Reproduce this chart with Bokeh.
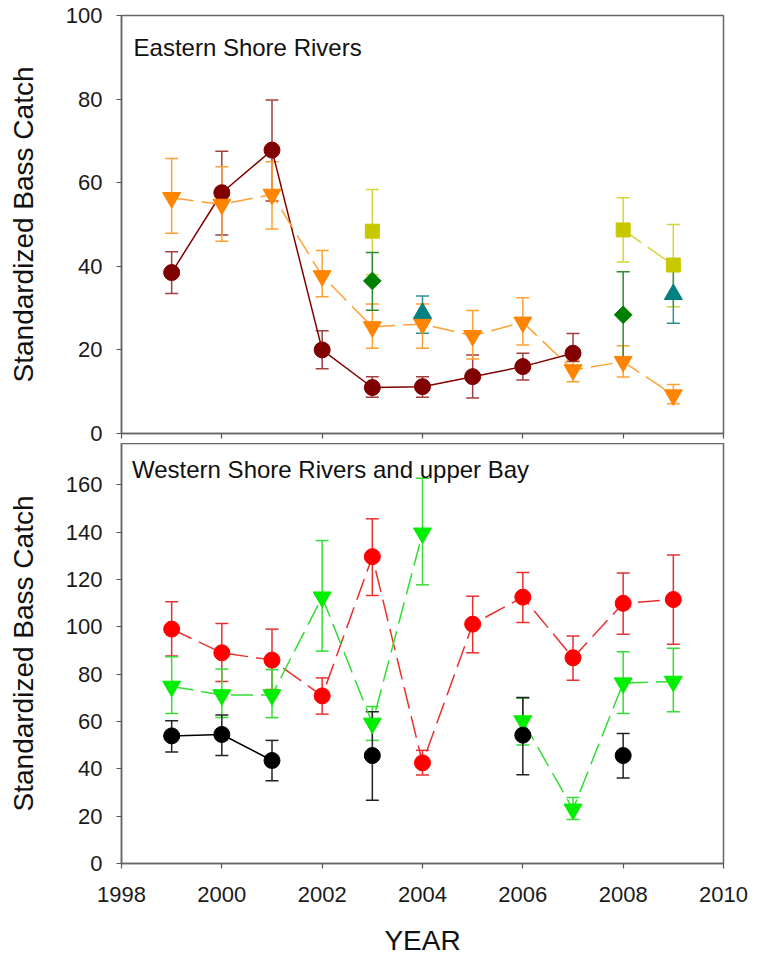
import math
from bokeh.plotting import figure
from bokeh.layouts import column
from bokeh.models import ColumnDataSource, Whisker, TeeHead, Label, FixedTicker, Range1d
from bokeh.embed import file_html
from bokeh.resources import INLINE

nan = float("nan")
years = [1999, 2000, 2001, 2002, 2003, 2004, 2005, 2006, 2007, 2008, 2009]

# ---------------- Eastern Shore Rivers ----------------
es_maroon = [38.5, 57.6, 67.8, 20.0, 11.0, 11.2, 13.6, 16.0, 19.2, nan, nan]
es_maroon_lo = [33.5, 47.5, 55.6, 15.5, 8.7, 8.7, 8.5, 12.8, 17.2, nan, nan]
es_maroon_hi = [43.5, 67.5, 79.8, 24.6, 13.6, 13.6, 18.8, 19.2, 23.9, nan, nan]

es_orange = [56.4, 54.8, 57.2, 37.7, 25.5, 26.2, 23.4, 26.6, 15.2, 17.2, 9.2]
es_orange_lo = [47.9, 46.0, 48.9, 32.7, 20.4, 20.4, 17.8, 21.2, 12.4, 13.5, 7.1]
es_orange_hi = [65.8, 63.8, 65.0, 43.8, 31.0, 31.0, 29.4, 32.5, 17.5, 21.0, 11.7]

es_olive = [nan, nan, nan, nan, 48.4, nan, nan, nan, nan, 48.7, 40.3]
es_olive_lo = [nan, nan, nan, nan, 38.0, nan, nan, nan, nan, 41.0, 30.3]
es_olive_hi = [nan, nan, nan, nan, 58.4, nan, nan, nan, nan, 56.4, 50.0]

es_green = [nan, nan, nan, nan, 36.5, nan, nan, nan, nan, 28.4, nan]
es_green_lo = [nan, nan, nan, nan, 29.5, nan, nan, nan, nan, 18.2, nan]
es_green_hi = [nan, nan, nan, nan, 43.3, nan, nan, nan, nan, 38.7, nan]

es_teal = [nan, nan, nan, nan, nan, 28.8, nan, nan, nan, nan, 33.3]
es_teal_lo = [nan, nan, nan, nan, nan, 24.0, nan, nan, nan, nan, 26.4]
es_teal_hi = [nan, nan, nan, nan, nan, 32.9, nan, nan, nan, nan, 39.5]

# ---------------- Western Shore Rivers and upper Bay ----------------
ws_red = [99.0, 89.0, 85.9, 70.8, 129.6, 42.5, 101.1, 112.5, 86.9, 109.9, 111.5]
ws_red_lo = [87.6, 76.9, 73.5, 63.1, 113.2, 37.4, 89.0, 101.8, 77.4, 96.8, 92.6]
ws_red_hi = [110.6, 101.4, 99.0, 78.4, 145.6, 47.8, 112.9, 122.9, 96.1, 122.7, 130.3]

ws_lime = [74.8, 71.2, 71.2, 112.5, 59.2, 139.5, nan, 60.2, 22.9, 76.2, 76.9]
ws_lime_lo = [63.4, 61.7, 61.6, 89.7, 52.0, 117.7, nan, 50.0, 18.6, 63.4, 64.1]
ws_lime_hi = [87.3, 82.2, 81.9, 136.4, 66.3, 162.7, nan, 69.8, 27.9, 89.4, 90.9]

ws_black = [53.9, 54.5, 43.5, nan, 45.6, nan, nan, 54.2, nan, 45.6, nan]
ws_black_lo = [47.1, 45.6, 35.0, nan, 26.7, nan, nan, 37.5, nan, 36.1, nan]
ws_black_hi = [60.3, 62.7, 52.0, nan, 64.1, nan, nan, 70.1, nan, 54.9, nan]

x_ticks = [1998, 2000, 2002, 2004, 2006, 2008, 2010]
top_ticks = [0, 20, 40, 60, 80, 100]
bottom_ticks = [0, 20, 40, 60, 80, 100, 120, 140, 160]

FONT = "Liberation Sans"
FRAME_W = 602


def add_series(p, y, lo, hi, color, bar_color, marker, size, dash, angle=0.0, width=1.5):
    p.line(years, y, line_color=color if dash == "solid" else bar_color,
           line_width=width, line_dash=dash)
    keep = [i for i in range(len(years)) if not math.isnan(y[i])]
    src = ColumnDataSource(dict(
        x=[years[i] for i in keep],
        y=[y[i] for i in keep],
        lo=[lo[i] for i in keep],
        hi=[hi[i] for i in keep],
    ))
    w = Whisker(base="x", lower="lo", upper="hi", source=src,
                line_color=bar_color, line_width=1.5, level="underlay",
                upper_head=TeeHead(size=13, line_color=bar_color, line_width=1.5),
                lower_head=TeeHead(size=13, line_color=bar_color, line_width=1.5))
    p.add_layout(w)
    p.scatter("x", "y", source=src, marker=marker, size=size, angle=angle,
              fill_color=color, line_color=color)


def style(p, yticks):
    p.outline_line_color = "#666666"
    p.outline_line_width = 1.5
    p.xgrid.visible = False
    p.ygrid.visible = False
    for ax in (p.xaxis, p.yaxis):
        ax.axis_line_color = "#666666"
        ax.axis_line_width = 1.5
        ax.major_tick_line_color = "#555555"
        ax.major_tick_line_width = 1.2
        ax.major_tick_out = 5
        ax.major_tick_in = 0
        ax.minor_tick_line_color = None
        ax.major_label_text_font = FONT
        ax.major_label_text_font_size = "22px"
        ax.major_label_text_color = "#1a1a1a"
        ax.axis_label_text_font = FONT
        ax.axis_label_text_font_size = "28px"
        ax.axis_label_text_font_style = "normal"
        ax.axis_label_text_color = "#111111"
    p.xaxis.ticker = FixedTicker(ticks=x_ticks)
    p.yaxis.ticker = FixedTicker(ticks=yticks)
    p.yaxis.major_label_standoff = 14
    p.yaxis.axis_label = "Standardized Bass Catch"
    p.yaxis.axis_label_standoff = 24


# ---------- top panel ----------
p1 = figure(frame_width=FRAME_W, frame_height=418, output_backend="svg",
            toolbar_location=None, x_range=Range1d(1998, 2010), y_range=Range1d(0, 100),
            min_border_left=121, min_border_right=30, min_border_top=15, min_border_bottom=22)
style(p1, top_ticks)
# x ticks without labels on the upper panel (drawn as minor ticks)
p1.xaxis.ticker = FixedTicker(ticks=[], minor_ticks=x_ticks)
p1.xaxis.minor_tick_line_color = "#555555"
p1.xaxis.minor_tick_line_width = 1.2
p1.xaxis.minor_tick_out = 5
p1.xaxis.minor_tick_in = 0

add_series(p1, es_maroon, es_maroon_lo, es_maroon_hi, "#800000", "#A0403F", "circle", 16, "solid")
add_series(p1, es_orange, es_orange_lo, es_orange_hi, "#FF8400", "#FFA033", "inverted_triangle", 18, "22 8")
add_series(p1, es_olive, es_olive_lo, es_olive_hi, "#C8C800", "#D4D43C", "square", 14, "22 8")
add_series(p1, es_green, es_green_lo, es_green_hi, "#008000", "#2E8B2E", "square", 12.5, "22 8", angle=math.pi / 4)
add_series(p1, es_teal, es_teal_lo, es_teal_hi, "#008080", "#2E9090", "triangle", 18, "22 8")

p1.add_layout(Label(x=1998.24, y=92.35, text="Eastern Shore Rivers", text_font=FONT,
                    text_font_size="24px", text_color="#111111", text_baseline="alphabetic"))

# ---------- bottom panel ----------
p2 = figure(frame_width=FRAME_W, frame_height=420, output_backend="svg",
            toolbar_location=None, x_range=Range1d(1998, 2010), y_range=Range1d(0, 177.4),
            min_border_left=121, min_border_right=30, min_border_top=0, min_border_bottom=0)
style(p2, bottom_ticks)
p2.border_fill_color = None
p2.margin = (-12, 0, 0, 0)
p2.xaxis.axis_label = "YEAR"
p2.xaxis.major_label_standoff = 18
p2.xaxis.axis_label_standoff = 20

add_series(p2, ws_red, ws_red_lo, ws_red_hi, "#FF0000", "#E83030", "circle", 16, "22 8")
add_series(p2, ws_lime, ws_lime_lo, ws_lime_hi, "#00EE00", "#33DD33", "inverted_triangle", 18, "22 8")
add_series(p2, ws_black, ws_black_lo, ws_black_hi, "#000000", "#222222", "circle", 16, "solid")

p2.add_layout(Label(x=1998.21, y=166.5, text="Western Shore Rivers and upper Bay", text_font=FONT,
                    text_font_size="24px", text_color="#111111", text_baseline="alphabetic"))

layout = column(p1, p2, spacing=0)
open("out.html", "w").write(file_html(layout, INLINE))
